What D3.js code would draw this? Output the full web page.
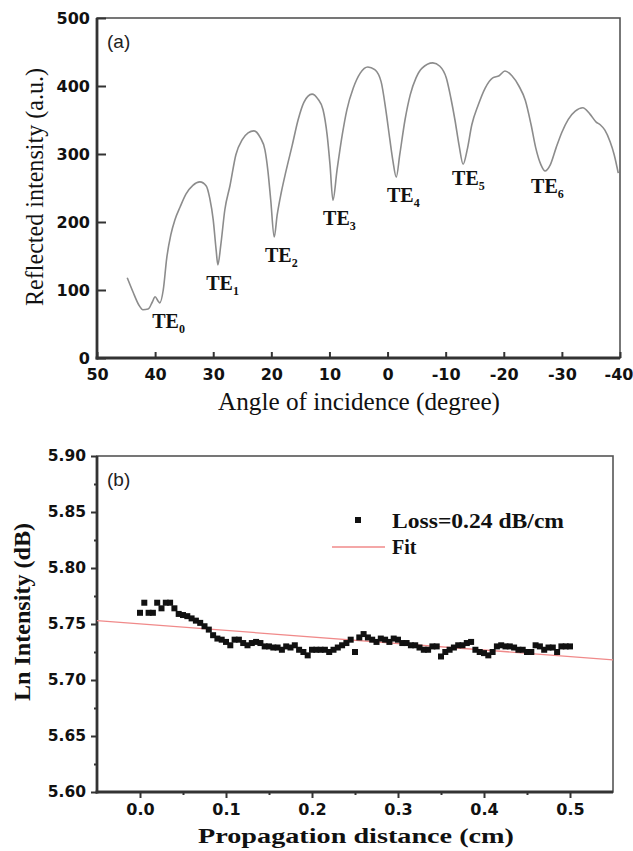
<!DOCTYPE html>
<html><head><meta charset="utf-8">
<script src="https://cdn.jsdelivr.net/npm/d3@7"></script>
<style>body{margin:0;background:#fff}svg{display:block}</style>
</head><body>
<svg id="c" width="633" height="851"></svg>
<script>
// ---------- Panel (a) data ----------
const angleDeg = [44.8,43.8,42.8,42.1,41.2,40.5,40.0,39.5,39.2,38.6,
  38.0,37.3,36.6,35.7,34.7,33.5,32.3,31.2,30.6,30.0,
  29.5,29.2,28.7,28.0,27.1,26.1,25.0,24.0,23.0,21.9,
  21.1,20.6,20.1,19.5,19.0,18.3,17.5,16.4,15.4,14.4,
  13.0,12.0,11.1,10.4,9.9,9.4,8.7,7.8,7.0,5.9,
  4.7,3.4,2.2,1.1,0.3,-0.4,-0.9,-1.5,-2.1,-3.0,
  -3.9,-4.9,-5.9,-7.8,-9.0,-10.1,-10.9,-11.6,-12.3,-13.0,
  -13.7,-14.5,-15.6,-16.8,-18.1,-19.2,-20.2,-21.4,-22.6,-23.7,
  -24.7,-25.5,-26.4,-27.1,-28.0,-29.0,-30.0,-31.1,-32.3,-33.6,
  -34.8,-35.9,-36.6,-37.4,-38.3,-39.0,-39.7];
const reflectedIntensity = [118,97,78,71,72,82,90,84,81,100,
  147,181,203,222,241,254,259,253,235,203,
  159,137,166,218,254,299,321,331,334,324,
  306,276,232,178,210,243,274,313,350,376,
  388,381,365,328,284,232,276,328,365,397,
  419,428,424,406,365,321,291,266,299,350,
  387,412,426,434,429,412,382,350,313,285,
  306,343,372,397,412,415,422,415,400,379,
  343,309,284,275,284,309,332,351,363,368,
  359,347,343,335,318,299,272];
const modeIndex = ["0","1","2","3","4","5","6"];
const modeLabelX = [40.5,31.2,21.1,11.1,0.1,-11.1,-24.7];
const modeLabelY = [44,100,141,196,229,254,243];
const xTicksA = [50,40,30,20,10,0,-10,-20,-30,-40];
const yTicksA = [0,100,200,300,400,500];

// ---------- Panel (b) data ----------
const distanceCm = [0,0.005,0.01,0.015,0.02,0.025,0.03,0.035,0.04,0.045,
  0.05,0.055,0.06,0.065,0.07,0.075,0.08,0.085,0.09,0.095,
  0.1,0.105,0.11,0.115,0.12,0.125,0.13,0.135,0.14,0.145,
  0.15,0.155,0.16,0.165,0.17,0.175,0.18,0.185,0.19,0.195,
  0.2,0.205,0.21,0.215,0.22,0.225,0.23,0.235,0.24,0.245,
  0.25,0.255,0.26,0.265,0.27,0.275,0.28,0.285,0.29,0.295,
  0.3,0.305,0.31,0.315,0.32,0.325,0.33,0.335,0.34,0.345,
  0.35,0.355,0.36,0.365,0.37,0.375,0.38,0.385,0.39,0.395,
  0.4,0.405,0.41,0.415,0.42,0.425,0.43,0.435,0.44,0.445,
  0.45,0.455,0.46,0.465,0.47,0.475,0.48,0.485,0.49,0.495,0.5];
const lnIntensity = [5.760,5.769,5.760,5.760,5.769,5.764,5.769,5.769,5.764,5.759,
  5.758,5.757,5.755,5.753,5.751,5.748,5.745,5.740,5.737,5.736,
  5.734,5.731,5.736,5.736,5.733,5.731,5.733,5.734,5.733,5.730,
  5.730,5.729,5.729,5.727,5.730,5.729,5.731,5.727,5.725,5.722,
  5.727,5.727,5.727,5.727,5.725,5.727,5.729,5.731,5.733,5.736,
  5.725,5.738,5.741,5.738,5.736,5.734,5.737,5.736,5.734,5.737,
  5.736,5.733,5.733,5.731,5.731,5.729,5.727,5.727,5.730,5.730,
  5.721,5.725,5.727,5.729,5.731,5.731,5.733,5.734,5.727,5.725,
  5.724,5.722,5.725,5.730,5.731,5.730,5.730,5.729,5.727,5.727,
  5.725,5.725,5.731,5.730,5.727,5.729,5.729,5.725,5.730,5.730,5.730];
const fitX = [-0.05, 0.55];
const fitY = [5.753, 5.718];
const xTicksB = [0.0,0.1,0.2,0.3,0.4,0.5];
const xMinorB = [0.05,0.15,0.25,0.35,0.45];
const yTicksB = [5.60,5.65,5.70,5.75,5.80,5.85,5.90];
const yMinorB = [5.625,5.675,5.725,5.775,5.825,5.875];
const legendLabels = ["Loss=0.24 dB/cm","Fit"];

// ---------- drawing ----------
const svg = d3.select("#c");
const serif = "'Liberation Serif','Times New Roman',serif";
const sans = "'DejaVu Sans',Arial,sans-serif";
const axisColor = "#333";

function styleAxis(g, fs) {
  g.select(".domain").remove();
  g.selectAll(".tick line").attr("stroke", axisColor).attr("stroke-width", 2);
  g.selectAll(".tick text").attr("font-family", sans).attr("font-weight", "bold")
    .attr("font-size", fs).attr("fill", "#111");
}

// ===== Panel (a) =====
const xA = d3.scaleLinear().domain([50, -40]).range([97, 620]);
const yA = d3.scaleLinear().domain([0, 500]).range([358, 18]);

svg.append("rect").attr("x", 97).attr("y", 18).attr("width", 620 - 97).attr("height", 358 - 18)
  .attr("fill", "none").attr("stroke", "#555").attr("stroke-width", 1.6);

const gxA = svg.append("g").attr("transform", "translate(0,358)")
  .call(d3.axisBottom(xA).tickValues(xTicksA).tickSize(-6).tickPadding(10.5).tickFormat(d => String(d)));
styleAxis(gxA, 16);
gxA.selectAll(".tick text").filter(d => d === -40).attr("dx", -1.5);
const gyA = svg.append("g").attr("transform", "translate(97,0)")
  .call(d3.axisLeft(yA).tickValues(yTicksA).tickSize(-9).tickPadding(7).tickFormat(d => String(d)));
styleAxis(gyA, 16);
svg.append("line").attr("x1", 97).attr("x2", 97).attr("y1", 18).attr("y2", 359.5)
  .attr("stroke", axisColor).attr("stroke-width", 2.8);
svg.append("line").attr("x1", 95.6).attr("x2", 620).attr("y1", 358).attr("y2", 358)
  .attr("stroke", axisColor).attr("stroke-width", 2.8);

const lineA = d3.line().x((d, i) => xA(angleDeg[i])).y((d, i) => yA(reflectedIntensity[i]))
  .curve(d3.curveMonotoneX);
svg.append("path").datum(angleDeg).attr("d", lineA).attr("fill", "none")
  .attr("stroke", "#8c8c8c").attr("stroke-width", 1.6);

modeIndex.forEach((m, i) => {
  const t = svg.append("text").attr("x", xA(modeLabelX[i])).attr("y", yA(modeLabelY[i]))
    .attr("font-family", serif).attr("font-weight", "bold").attr("font-size", 20).attr("fill", "#111");
  t.append("tspan").text("TE");
  t.append("tspan").attr("dy", 5).attr("font-size", 12).text(m);
});

svg.append("text").attr("x", 107).attr("y", 48).attr("font-family", "Arial,'Liberation Sans',sans-serif")
  .attr("font-size", 19).attr("fill", "#222").text("(a)");

svg.append("text").attr("x", 359).attr("y", 410).attr("text-anchor", "middle")
  .attr("font-family", serif).attr("font-size", 26).attr("fill", "#111")
  .attr("textLength", 282).attr("lengthAdjust", "spacingAndGlyphs")
  .text("Angle of incidence (degree)");
svg.append("text").attr("transform", "translate(43,187) rotate(-90)").attr("text-anchor", "middle")
  .attr("font-family", serif).attr("font-size", 26).attr("fill", "#111")
  .attr("textLength", 238).attr("lengthAdjust", "spacingAndGlyphs")
  .text("Reflected intensity (a.u.)");

// ===== Panel (b) =====
const xB = d3.scaleLinear().domain([-0.05, 0.55]).range([97, 613]);
const yB = d3.scaleLinear().domain([5.60, 5.90]).range([792, 456]);

svg.append("rect").attr("x", 97).attr("y", 456).attr("width", 613 - 97).attr("height", 792 - 456)
  .attr("fill", "none").attr("stroke", "#555").attr("stroke-width", 1.6);

const gxB = svg.append("g").attr("transform", "translate(0,792)")
  .call(d3.axisBottom(xB).tickValues(xTicksB).tickSize(6).tickPadding(6).tickFormat(d3.format(".1f")));
styleAxis(gxB, 16);
const gxBm = svg.append("g").attr("transform", "translate(0,792)")
  .call(d3.axisBottom(xB).tickValues(xMinorB).tickSize(3).tickFormat(""));
styleAxis(gxBm, 16);
const gyB = svg.append("g").attr("transform", "translate(97,0)")
  .call(d3.axisLeft(yB).tickValues(yTicksB).tickSize(6).tickPadding(5).tickFormat(d3.format(".2f")));
styleAxis(gyB, 15.5);
const gyBm = svg.append("g").attr("transform", "translate(97,0)")
  .call(d3.axisLeft(yB).tickValues(yMinorB).tickSize(3).tickFormat(""));
styleAxis(gyBm, 15.5);
svg.append("line").attr("x1", 97).attr("x2", 97).attr("y1", 456).attr("y2", 793.5)
  .attr("stroke", axisColor).attr("stroke-width", 2.8);
svg.append("line").attr("x1", 95.6).attr("x2", 613).attr("y1", 792).attr("y2", 792)
  .attr("stroke", axisColor).attr("stroke-width", 2.8);

// fit line
svg.append("line").attr("x1", xB(fitX[0])).attr("y1", yB(fitY[0]))
  .attr("x2", xB(fitX[1])).attr("y2", yB(fitY[1]))
  .attr("stroke", "#f08a8a").attr("stroke-width", 1.3);

// points
svg.append("g").selectAll("rect").data(distanceCm).join("rect")
  .attr("x", (d, i) => xB(d) - 3).attr("y", (d, i) => yB(lnIntensity[i]) - 3)
  .attr("width", 6).attr("height", 6).attr("fill", "#111");

// legend
svg.append("rect").attr("x", 355).attr("y", 517).attr("width", 6).attr("height", 6).attr("fill", "#111");
svg.append("text").attr("x", 392).attr("y", 528).attr("font-family", serif).attr("font-weight", "bold")
  .attr("font-size", 20).attr("fill", "#111").attr("textLength", 172).attr("lengthAdjust", "spacingAndGlyphs")
  .text(legendLabels[0]);
svg.append("line").attr("x1", 332).attr("x2", 385).attr("y1", 547).attr("y2", 547)
  .attr("stroke", "#f08a8a").attr("stroke-width", 1.3);
svg.append("text").attr("x", 392).attr("y", 554).attr("font-family", serif).attr("font-weight", "bold")
  .attr("font-size", 20).attr("fill", "#111").text(legendLabels[1]);

svg.append("text").attr("x", 107).attr("y", 486).attr("font-family", "Arial,'Liberation Sans',sans-serif")
  .attr("font-size", 19).attr("fill", "#222").text("(b)");

svg.append("text").attr("x", 356).attr("y", 843).attr("text-anchor", "middle")
  .attr("font-family", serif).attr("font-weight", "bold").attr("font-size", 22).attr("fill", "#111")
  .attr("textLength", 316).attr("lengthAdjust", "spacingAndGlyphs")
  .text("Propagation distance (cm)");
svg.append("text").attr("transform", "translate(30,612) rotate(-90)").attr("text-anchor", "middle")
  .attr("font-family", serif).attr("font-weight", "bold").attr("font-size", 23).attr("fill", "#111")
  .attr("textLength", 178).attr("lengthAdjust", "spacingAndGlyphs")
  .text("Ln Intensity (dB)");
</script>
</body></html>
